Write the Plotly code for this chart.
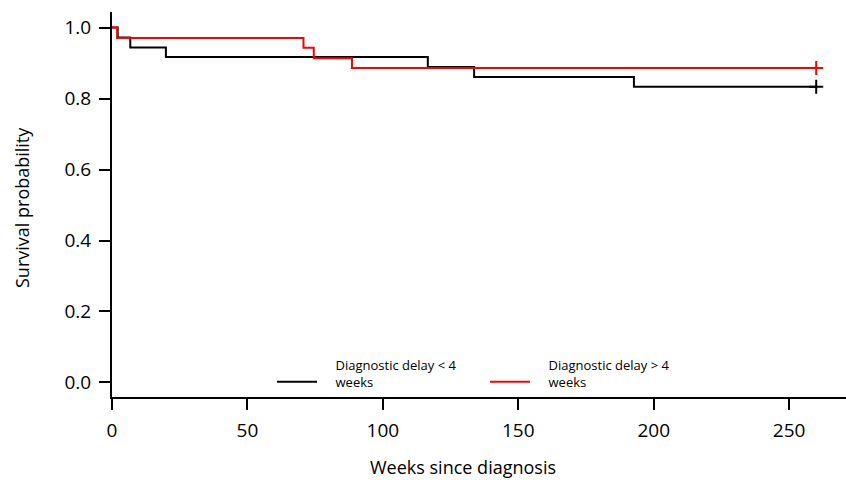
import plotly.graph_objects as go

# Kaplan-Meier step data (weeks since diagnosis, survival probability)
black_name = "Diagnostic delay < 4<br>weeks"
black_times = [0, 2.1, 6.75, 19.9, 116.6, 133.7, 192.7, 260]
black_surv = [1.0, 0.972, 0.944, 0.917, 0.889, 0.861, 0.833, 0.833]
black_censor_t = [260]
black_censor_s = [0.833]

red_name = "Diagnostic delay > 4<br>weeks"
red_times = [0, 1.9, 70.7, 74.5, 88.6, 260]
red_surv = [1.0, 0.971, 0.943, 0.914, 0.886, 0.886]
red_censor_t = [260]
red_censor_s = [0.886]

x_ticks = [0, 50, 100, 150, 200, 250]
y_ticks = [0.0, 0.2, 0.4, 0.6, 0.8, 1.0]
y_tick_text = ["0.0", "0.2", "0.4", "0.6", "0.8", "1.0"]

FONT = "Open Sans"
BLACK = "#000000"
RED = "#ff0000"


def indent(label):
    pad = "\u00a0" * 4
    return "<br>".join(pad + part for part in label.split("<br>"))


fig = go.Figure()
fig.add_trace(go.Scatter(x=black_times, y=black_surv, mode="lines", line=dict(color=BLACK, width=2, shape="hv"),
                         name=indent(black_name)))
fig.add_trace(go.Scatter(x=red_times, y=red_surv, mode="lines", line=dict(color=RED, width=2, shape="hv"),
                         name=indent(red_name)))
fig.add_trace(go.Scatter(x=black_censor_t, y=black_censor_s, mode="markers", showlegend=False,
                         marker=dict(symbol="cross-thin", size=10, line=dict(color=BLACK, width=2))))
fig.add_trace(go.Scatter(x=red_censor_t, y=red_censor_s, mode="markers", showlegend=False,
                         marker=dict(symbol="cross-thin", size=10, line=dict(color=RED, width=2))))

L, T, B, R = 112, 12, 83, 0
W, H = 846, 480
pw = W - L - R
ph = H - T - B

fig.update_layout(
    width=W, height=H,
    margin=dict(l=L, r=R, t=T, b=B, pad=0),
    paper_bgcolor="white", plot_bgcolor="white",
    font=dict(family=FONT, size=18, color="black"),
    showlegend=True,
    legend=dict(orientation="h", x=(272 - L) / pw, y=(H - B - 350) / ph, xanchor="left", yanchor="top",
                font=dict(size=13, family=FONT), valign="bottom", entrywidth=158, entrywidthmode="pixels",
                bgcolor="rgba(0,0,0,0)", itemwidth=40),
    xaxis=dict(range=[0, 271], showgrid=False, zeroline=False, showline=True, linecolor="black", linewidth=2,
               ticks="outside", ticklen=11, tickwidth=2, tickcolor="black", tickvals=x_ticks,
               tickfont=dict(size=19), ticklabelstandoff=4),
    yaxis=dict(range=[-0.041, 1.044], showgrid=False, zeroline=False, showline=True, linecolor="black", linewidth=2,
               ticks="outside", ticklen=11, tickwidth=2, tickcolor="black", tickvals=y_ticks, ticktext=y_tick_text,
               tickfont=dict(size=19), ticklabelstandoff=4),
    annotations=[
        dict(text="Weeks since diagnosis", xref="paper", yref="paper", x=(463.3 - L) / pw, y=(H - B - 467) / ph,
             xanchor="center", yanchor="middle", showarrow=False, font=dict(size=18)),
        dict(text="Survival probability", xref="paper", yref="paper", x=(22 - L) / pw, y=(H - B - 208) / ph,
             xanchor="center", yanchor="middle", showarrow=False, textangle=-90, font=dict(size=18)),
    ],
)

fig.write_html("out.html", config={"displayModeBar": False},
               post_script="document.body.style.margin='0';")
